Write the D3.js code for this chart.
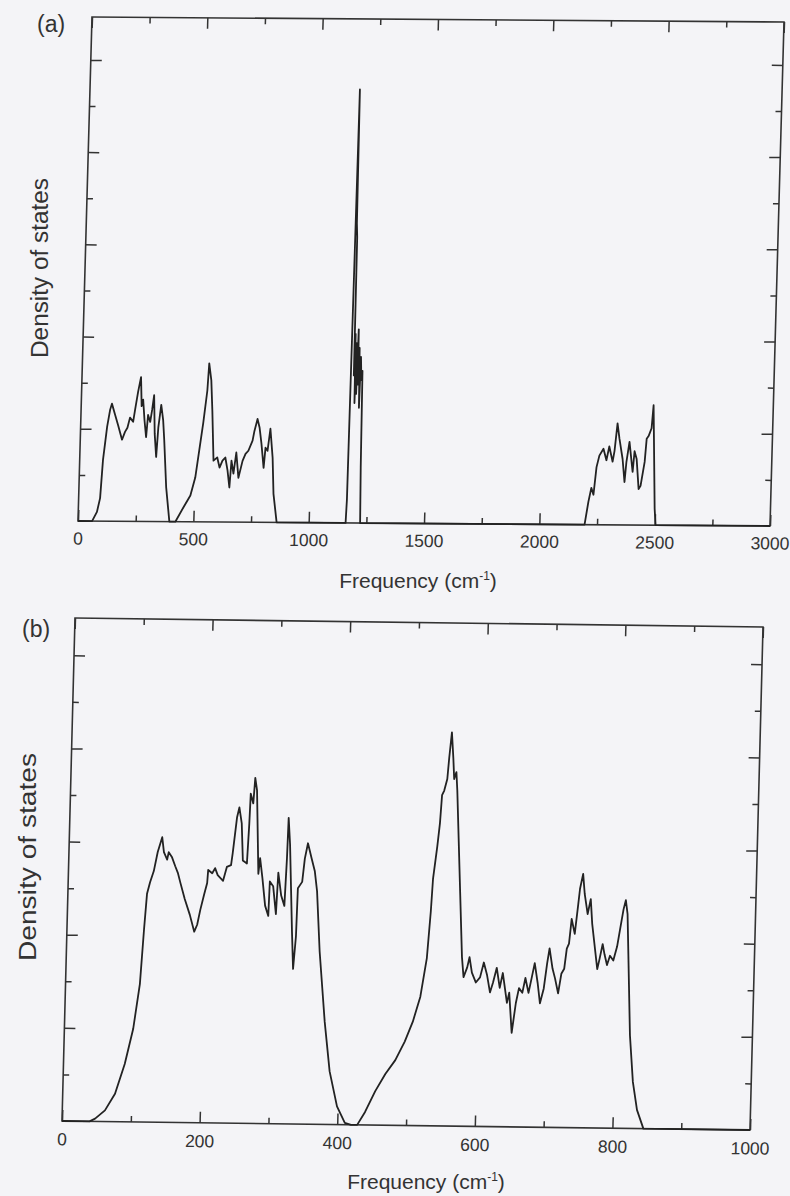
<!DOCTYPE html>
<meta charset="utf-8">
<style>
body { margin: 0; background: #f4f4f7; }
svg text { font-family: "Liberation Sans", Arial, sans-serif; fill: #333; }
.curve { fill: none; stroke: #222; stroke-width: 1.8px; stroke-linejoin: round; }
.frame { fill: none; stroke: #333; stroke-width: 1.6px; }
.tick line { stroke: #333; stroke-width: 1.5px; }
</style>
<body>
<script src="https://cdn.jsdelivr.net/npm/d3@7/dist/d3.min.js"></script>
<script>
// ---- panel (a): 0 - 3000 cm-1, [frequency, density] ----
var bandA1 = [[0,0],[61,0],[81,0.2],[93,0.5],[101,1.33],[115,2.05],[126,2.42],[133,2.55],[148,2.31],[162,2.09],
  [181,1.77],[193,1.94],[203,2.03],[213,2.25],[227,2.16],[234,2.42],[245,2.81],[256,3.13],[262,2.5],[268,2.64],
  [276,2.2],[285,1.83],[291,2.31],[301,2.16],[308,2.42],[315,2.74],[322,1.9],[331,1.4],[337,2.05],[347,2.53],
  [357,2.2],[364,1.77],[378,0.75],[396,0]];
var bandA2 = [[422,0],[455,0.31],[484,0.57],[503,0.96],[517,1.55],[531,2.14],[545,2.85],[550,3.44],[561,3.07],
  [569,2.42],[580,1.33],[596,1.4],[607,1.18],[619,1.33],[631,1.4],[642,1.12],[652,0.75],[658,1.33],[668,1.05],
  [678,1.51],[690,0.96],[706,1.33],[718,1.48],[730,1.55],[747,1.77],[754,1.98],[766,2.24],[776,2.05],[786,1.7],
  [798,1.18],[804,1.62],[813,1.55],[823,2.03],[836,1.4],[844,0.62],[861,0]];
var bandA3 = [[1150,0],[1160,0],[1163,0.5],[1170,9.4],[1173,6.5],[1176,6.2],[1178,3.2],[1181,4.1],[1184,2.6],
  [1187,3.9],[1190,2.8],[1194,4.2],[1197,3.0],[1200,3.8],[1204,2.5],[1207,3.6],[1211,3.1],[1215,3.3],[1219,1.2],[1223,0]];
var bandA4 = [[2196,0],[2210,0.5],[2221,0.8],[2231,0.65],[2241,1.25],[2252,1.5],[2269,1.65],[2283,1.4],[2294,1.7],
  [2310,1.37],[2317,1.6],[2327,2.2],[2337,1.87],[2353,1.43],[2364,0.93],[2370,1.37],[2381,1.8],[2398,1.15],
  [2404,1.6],[2414,1.43],[2426,0.78],[2434,0.85],[2449,1.37],[2455,1.87],[2463,1.93],[2475,2.1],[2481,2.6],
  [2498,0.35],[2504,0],[3000,0]];

// ---- panel (b): 0 - 1000 cm-1 ----
var bandB1 = [[0,0],[40,0],[48,0.06],[62,0.24],[76,0.6],[89,1.24],[100,2.0],[108,2.96],[112,4.14],[115,4.9],
  [119,5.15],[124,5.39],[129,5.8],[135,6.12],[138,5.8],[143,5.64],[145,5.8],[150,5.69],[155,5.5],[159,5.36],
  [163,5.15],[170,4.8],[178,4.46],[185,4.1],[189,4.25],[193,4.57],[198,4.9],[202,5.15],[203,5.43],[209,5.36],
  [213,5.47],[217,5.32],[225,5.2],[230,5.5],[236,5.54],[238,5.8],[243,6.57],[246,6.78],[250,6.44],[253,5.64],
  [259,5.58],[261,6.44],[262,7.08],[266,6.87],[268,7.42],[271,7.15],[276,5.36],[278,5.7],[282,5.28],[287,4.68],
  [292,4.46],[293,5.2],[298,5.1],[303,4.5],[305,5.39],[310,4.9],[315,4.68],[317,5.7],[318,6.57],[321,6.0],
  [327,4.14],[330,3.33],[333,4.03],[334,5.06],[340,5.2],[343,5.7],[347,6.03],[353,5.7],[358,5.43],[362,5.0],
  [368,3.71],[378,2.2],[387,1.14],[399,0.39],[411,0.04],[420,0]];
var bandB2 = [[429,0],[440,0.28],[454,0.73],[468,1.1],[482,1.4],[495,1.8],[506,2.23],[516,2.77],[524,3.6],
  [528,4.6],[530,5.3],[535,6.0],[538,6.5],[540,7.1],[543,7.2],[547,7.45],[549,7.9],[552,8.45],[555,7.9],
  [557,7.45],[560,7.6],[562,7.2],[566,6.1],[570,5.0],[575,3.63],[578,3.2],[583,3.41],[586,3.63],[590,3.3],
  [596,3.09],[602,3.2],[607,3.52],[612,3.26],[617,2.88],[621,3.09],[626,3.41],[631,2.98],[635,3.3],[642,2.66],
  [645,2.88],[650,2.02],[655,2.66],[659,2.98],[664,2.88],[668,3.2],[673,2.88],[677,3.2],[681,3.52],[686,3.09],
  [690,2.66],[695,2.98],[699,3.52],[702,3.84],[707,3.41],[711,3.2],[716,2.88],[720,3.3],[724,3.41],[727,3.84],
  [730,3.95],[733,4.48],[738,4.16],[742,4.8],[744,5.13],[748,5.45],[751,5.02],[756,4.59],[760,4.91],[763,4.38],
  [769,3.73],[772,3.41],[775,3.63],[779,3.95],[782,3.73],[786,3.5],[790,3.7],[795,3.6],[800,3.9],[804,4.3],
  [808,4.7],[811,4.9],[814,4.6],[818,3.3],[822,2.0],[828,1.0],[835,0.4],[845,0],[1000,0]];

// ticks
var ticksA = [0, 500, 1000, 1500, 2000, 2500, 3000];
var minorA = [250, 750, 1250, 1750, 2250, 2750];
var ticksB = [0, 200, 400, 600, 800, 1000];
var minorB = [100, 300, 500, 700, 900];
var yMajor = [2, 4, 6, 8, 10];
var yMinor = [1, 3, 5, 7, 9];

var svg = d3.select("body").append("svg")
    .attr("width", 790)
    .attr("height", 1196);

// the scan is slightly skewed, so every panel sits in its own sheared box
function panel(o) {
  var x = d3.scaleLinear().domain(o.xDomain).range([0, o.w]);
  var y = d3.scaleLinear().domain(o.yDomain).range([o.h, 0]);
  var g = svg.append("g").attr("transform", "matrix(" + o.m.join(",") + ")");

  g.append("rect").attr("class", "frame").attr("width", o.w).attr("height", o.h);

  var bx = g.append("g").attr("transform", "translate(0," + o.h + ")")
      .call(d3.axisBottom(x).tickValues(o.ticks).tickSize(-11).tickPadding(o.pad).tickFormat(d3.format("d")));
  bx.attr("font-size", null).attr("font-family", null)
    .selectAll("text").style("font-size", "17.5px").attr("fill", "#333");
  g.append("g").attr("transform", "translate(0," + o.h + ")")
      .call(d3.axisBottom(x).tickValues(o.minor).tickSize(-6).tickFormat(""));
  g.append("g").call(d3.axisTop(x).tickValues(o.ticks).tickSize(-11).tickFormat(""));
  g.append("g").call(d3.axisTop(x).tickValues(o.minor).tickSize(-6).tickFormat(""));
  g.append("g").call(d3.axisLeft(y).tickValues(yMajor).tickSize(-11).tickFormat(""));
  g.append("g").call(d3.axisLeft(y).tickValues(yMinor).tickSize(-6).tickFormat(""));
  g.append("g").attr("transform", "translate(" + o.w + ",0)")
      .call(d3.axisRight(y).tickValues(yMajor).tickSize(-11).tickFormat(""));
  g.append("g").attr("transform", "translate(" + o.w + ",0)")
      .call(d3.axisRight(y).tickValues(yMinor).tickSize(-6).tickFormat(""));
  g.selectAll(".domain").remove();

  var line = d3.line()
      .x(function(d) { return x(d[0]); })
      .y(function(d) { return y(d[1]); });
  g.append("path")
      .datum(o.data)
      .attr("class", "curve")
      .attr("d", line);
}

panel({
  data: bandA1.concat(bandA2, bandA3, bandA4),
  xDomain: [0, 3000], yDomain: [0, 10.93],
  w: 692, h: 504, m: [1, 5 / 692, -14 / 504, 1, 92, 17],
  ticks: ticksA, minor: minorA, pad: 11
});
panel({
  data: bandB1.concat(bandB2),
  xDomain: [0, 1000], yDomain: [0, 10.8],
  w: 688, h: 503, m: [1, 9 / 688, -13 / 503, 1, 75, 618],
  ticks: ticksB, minor: minorB, pad: 12
});

// labels
svg.append("text").attr("x", 37).attr("y", 32).style("font-size", "23px").text("(a)");
svg.append("text").attr("x", 22).attr("y", 637).style("font-size", "23px").text("(b)");

function ylab(cx, cy, len) {
  svg.append("text")
      .attr("transform", "translate(" + cx + "," + cy + ") rotate(-90)")
      .attr("text-anchor", "middle")
      .attr("textLength", len)
      .attr("lengthAdjust", "spacingAndGlyphs")
      .style("font-size", "23px")
      .text("Density of states");
}
ylab(48, 268, 180);
ylab(36, 857, 208);

function xlab(cx, cy, fs) {
  var t = svg.append("text")
      .attr("x", cx).attr("y", cy)
      .attr("text-anchor", "middle")
      .style("font-size", fs + "px");
  t.append("tspan").text("Frequency (cm");
  t.append("tspan").attr("dy", -8).style("font-size", "12px").text("-1");
  t.append("tspan").attr("dy", 8).text(")");
}
xlab(418, 588, 21);
xlab(426, 1189, 21);
</script>
</body>
